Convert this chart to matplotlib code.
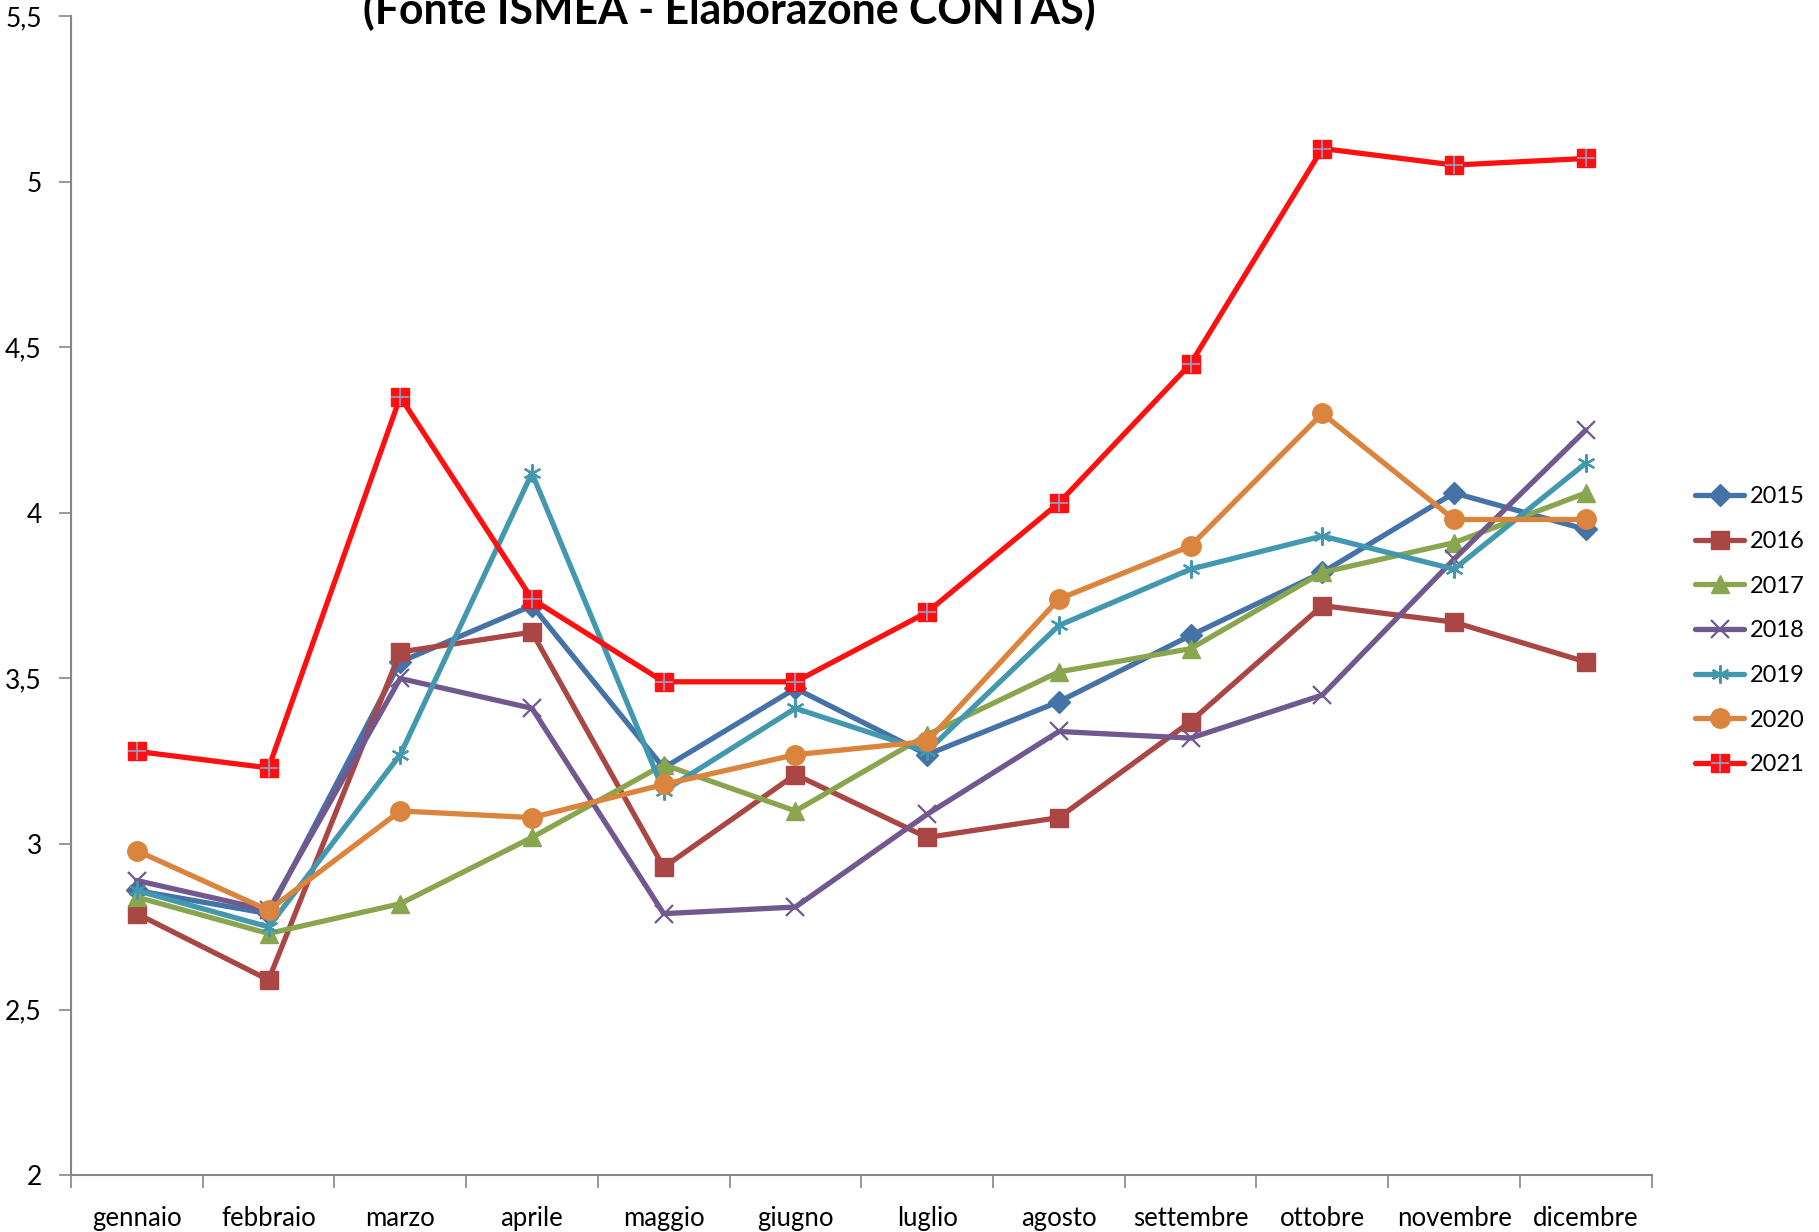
import matplotlib.pyplot as plt
from matplotlib.legend_handler import HandlerTuple
from matplotlib.ticker import FuncFormatter

plt.rcParams["font.family"] = ["Lato", "DejaVu Sans"]

mesi = ["gennaio", "febbraio", "marzo", "aprile", "maggio", "giugno",
        "luglio", "agosto", "settembre", "ottobre", "novembre", "dicembre"]

v2015 = [2.86, 2.79, 3.55, 3.72, 3.23, 3.47, 3.27, 3.43, 3.63, 3.82, 4.06, 3.95]
v2016 = [2.79, 2.59, 3.58, 3.64, 2.93, 3.21, 3.02, 3.08, 3.37, 3.72, 3.67, 3.55]
v2017 = [2.84, 2.73, 2.82, 3.02, 3.24, 3.10, 3.33, 3.52, 3.59, 3.82, 3.91, 4.06]
v2018 = [2.89, 2.80, 3.50, 3.41, 2.79, 2.81, 3.09, 3.34, 3.32, 3.45, 3.86, 4.25]
v2019 = [2.86, 2.75, 3.27, 4.12, 3.16, 3.41, 3.28, 3.66, 3.83, 3.93, 3.83, 4.15]
v2020 = [2.98, 2.80, 3.10, 3.08, 3.18, 3.27, 3.31, 3.74, 3.90, 4.30, 3.98, 3.98]
v2021 = [3.28, 3.23, 4.35, 3.74, 3.49, 3.49, 3.70, 4.03, 4.45, 5.10, 5.05, 5.07]

fig = plt.figure(figsize=(18.19, 12.32), dpi=100)
ax = fig.add_axes([0.039, 0.046, 0.869, 0.941])

x = list(range(len(mesi)))
lw = 3.8

series = [
    ("2015", v2015, "#4572A7", "D", 11),
    ("2016", v2016, "#AA4643", "s", 13),
    ("2017", v2017, "#89A54E", "^", 13),
    ("2018", v2018, "#71588F", "x", 13),
    ("2019", v2019, "#4198AF", (6, 2, 0), 13),
    ("2020", v2020, "#DB843D", "o", 14),
]

handles = []
labels = []
for name, vals, col, mk, ms in series:
    if name in ("2018", "2019"):
        # thin line-style markers (x and asterisk)
        ln, = ax.plot(x, vals, color=col, lw=lw, marker=mk, ms=ms, mew=1.6,
                      mec=col, solid_capstyle="round")
    else:
        ln, = ax.plot(x, vals, color=col, lw=lw, marker=mk, ms=ms, mec=col,
                      solid_capstyle="round")
    handles.append(ln)
    labels.append(name)

# 2021: red squares with a thin light cross inside
red, = ax.plot(x, v2021, color="#FF1010", lw=lw, marker="s", ms=13,
               mec="#FF1010", solid_capstyle="round", zorder=3)
cross, = ax.plot(x, v2021, ls="none", marker="+", ms=13, mew=1.2,
                 color="#8FA3C8", zorder=3.1)
handles.append((red, cross))
labels.append("2021")

ax.set_xlim(-0.5, len(mesi) - 0.5)
ax.set_ylim(2, 5.5)

ax.set_xticks(x)
ax.set_xticklabels(mesi, fontsize=18.5)
ax.tick_params(axis="x", which="major", length=0, pad=22)
ax.set_xticks([i - 0.5 for i in range(len(mesi) + 1)], minor=True)
ax.tick_params(axis="x", which="minor", length=9, color="#868686", width=1.2)

ax.set_yticks([2, 2.5, 3, 3.5, 4, 4.5, 5, 5.5])
ax.yaxis.set_major_formatter(FuncFormatter(lambda v, p: f"{v:g}".replace(".", ",")))
ax.tick_params(axis="y", length=9, color="#868686", width=1.2, labelsize=19, pad=12)

for s in ["top", "right"]:
    ax.spines[s].set_visible(False)
for s in ["left", "bottom"]:
    ax.spines[s].set_color("#868686")
    ax.spines[s].set_linewidth(1.5)

fig.legend(handles, labels, loc="center left", bbox_to_anchor=(0.92, 0.488),
           frameon=False, fontsize=17, handlelength=2.1, labelspacing=1.0,
           handletextpad=0.25,
           handler_map={tuple: HandlerTuple(ndivide=1, pad=0)})

fig.text(0.401, 1 - 24 / 1232, "(Fonte ISMEA - Elaborazone CONTAS)",
         fontsize=30.8, fontweight="bold", ha="center", va="baseline")

fig.savefig("out.png", dpi=100)
